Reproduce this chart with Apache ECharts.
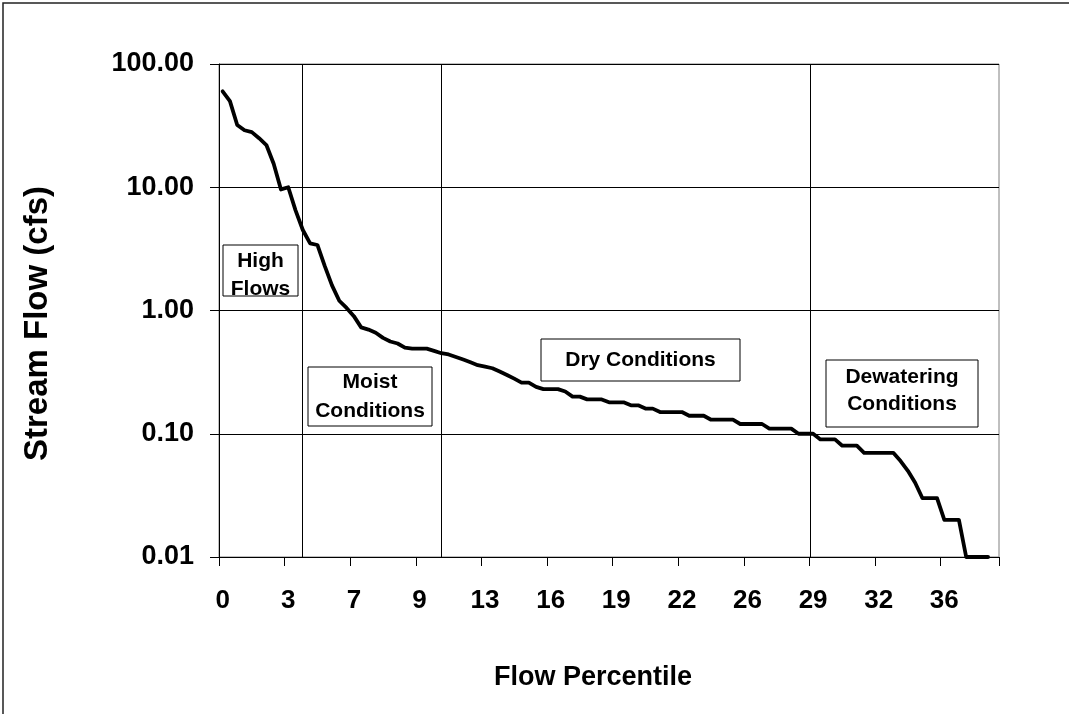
<!DOCTYPE html>
<html>
<head>
<meta charset="utf-8">
<script src="https://cdn.jsdelivr.net/npm/echarts@6/dist/echarts.min.js"></script>
<style>
  html, body { margin: 0; padding: 0; background: #fff; }
  #chart { width: 1069px; height: 714px; }
</style>
</head>
<body>
<div id="chart"></div>
<script>
// x labels shown every 9th category
var tickLabels = ["0", "3", "7", "9", "13", "16", "19", "22", "26", "29", "32", "36"];
var labelEvery = 9;

// stream flow (cfs), one value per category, last one has no flow
var flow = [
    60, 50, 32, 29, 28, 25, 22, 15.5, 9.6, 10,
    6.5, 4.5, 3.5, 3.4, 2.3, 1.6, 1.2, 1.05, 0.9, 0.73,
    0.70, 0.66, 0.60, 0.56, 0.54, 0.50, 0.49, 0.49, 0.49, 0.47,
    0.45, 0.44, 0.42, 0.40, 0.38, 0.36, 0.35, 0.34, 0.32, 0.30,
    0.28, 0.26, 0.26, 0.24, 0.23, 0.23, 0.23, 0.22, 0.20, 0.20,
    0.19, 0.19, 0.19, 0.18, 0.18, 0.18, 0.17, 0.17, 0.16, 0.16,
    0.15, 0.15, 0.15, 0.15, 0.14, 0.14, 0.14, 0.13, 0.13, 0.13,
    0.13, 0.12, 0.12, 0.12, 0.12, 0.11, 0.11, 0.11, 0.11, 0.10,
    0.10, 0.10, 0.09, 0.09, 0.09, 0.08, 0.08, 0.08, 0.07, 0.07,
    0.07, 0.07, 0.07, 0.06, 0.05, 0.04, 0.03, 0.03, 0.03, 0.02,
    0.02, 0.02, 0.01, 0.01, 0.01, 0.01, null
];

// zone boundaries, in category units from the left edge
var zoneEdges = [11.36, 30.45, 81.04];

var categories = flow.map(function(v, i) { return String(i); });

var font = "'Liberation Sans', Arial, sans-serif";

function box(x, y, w, h, txt, lh, dy) {
    return {
        type: "group",
        children: [
            { type: "rect", shape: { x: x, y: y, width: w, height: h },
              style: { fill: "#fff", stroke: "#000", lineWidth: 1 }, z: 10 },
            { type: "text", x: x + w / 2, y: y + h / 2 + (dy || 0), z: 11,
              style: { text: txt, font: "bold 21px " + font, fill: "#000",
                       align: "center", verticalAlign: "middle", lineHeight: lh } }
        ]
    };
}

var chart = echarts.init(document.getElementById("chart"));
chart.setOption({
    animation: false,
    backgroundColor: "#fff",
    grid: { left: 219, top: 64, right: 70, bottom: 157, show: true,
            borderColor: "#808080", borderWidth: 1 },
    xAxis: [{
        type: "category",
        data: categories,
        boundaryGap: true,
        axisLine: { lineStyle: { color: "#000", width: 1 } },
        axisTick: { show: true, interval: labelEvery - 1, length: 9, lineStyle: { color: "#000", width: 1 } },
        axisLabel: {
            interval: labelEvery - 1, margin: 31,
            fontFamily: font, fontWeight: "bold", fontSize: 26, color: "#000",
            formatter: function(v, i) { return tickLabels[i / labelEvery]; }
        },
        name: "Flow Percentile",
        nameLocation: "middle",
        nameGap: 107,
        nameTextStyle: { fontFamily: font, fontWeight: "bold", fontSize: 27, color: "#000",
                         padding: [0, 32, 0, 0] }
    }, {
        type: "value",
        min: 0, max: flow.length,
        show: false
    }],
    yAxis: {
        type: "log",
        logBase: 10,
        min: 0.01, max: 100,
        axisLine: { show: true, lineStyle: { color: "#000", width: 1 } },
        axisTick: { show: true, length: 9, lineStyle: { color: "#000" } },
        axisLabel: {
            margin: 25,
            fontFamily: font, fontWeight: "bold", fontSize: 27, color: "#000",
            formatter: function(v) { return Number(v).toFixed(2); }
        },
        splitLine: { show: true, lineStyle: { color: "#000", width: 1 } },
        name: "Stream Flow (cfs)",
        nameLocation: "middle",
        nameGap: 165,
        nameTextStyle: { fontFamily: font, fontWeight: "bold", fontSize: 33, color: "#000",
                         padding: [0, 26, 0, 0] }
    },
    series: [{
        type: "line",
        data: flow,
        symbol: "none",
        connectNulls: false,
        lineStyle: { color: "#000", width: 3.8, cap: "round", join: "round" },
        z: 5
    }, {
        type: "line",
        xAxisIndex: 1,
        data: [],
        markLine: {
            silent: true,
            symbol: "none",
            label: { show: false },
            lineStyle: { color: "#000", width: 1, type: "solid" },
            data: zoneEdges.map(function(x) { return { xAxis: x }; })
        }
    }],
    graphic: [
        { type: "rect", shape: { x: 3, y: 3, width: 1200, height: 900 },
          style: { fill: null, stroke: "#222", lineWidth: 1.5 } },
        box(223, 245, 75, 51, "High\nFlows", 28, 5),
        box(308, 367, 124, 59, "Moist\nConditions", 29, 0),
        box(541, 339, 199, 42, "Dry Conditions", 24, 0),
        box(826, 360, 152, 67, "Dewatering\nConditions", 27, -3)
    ]
});
</script>
</body>
</html>
